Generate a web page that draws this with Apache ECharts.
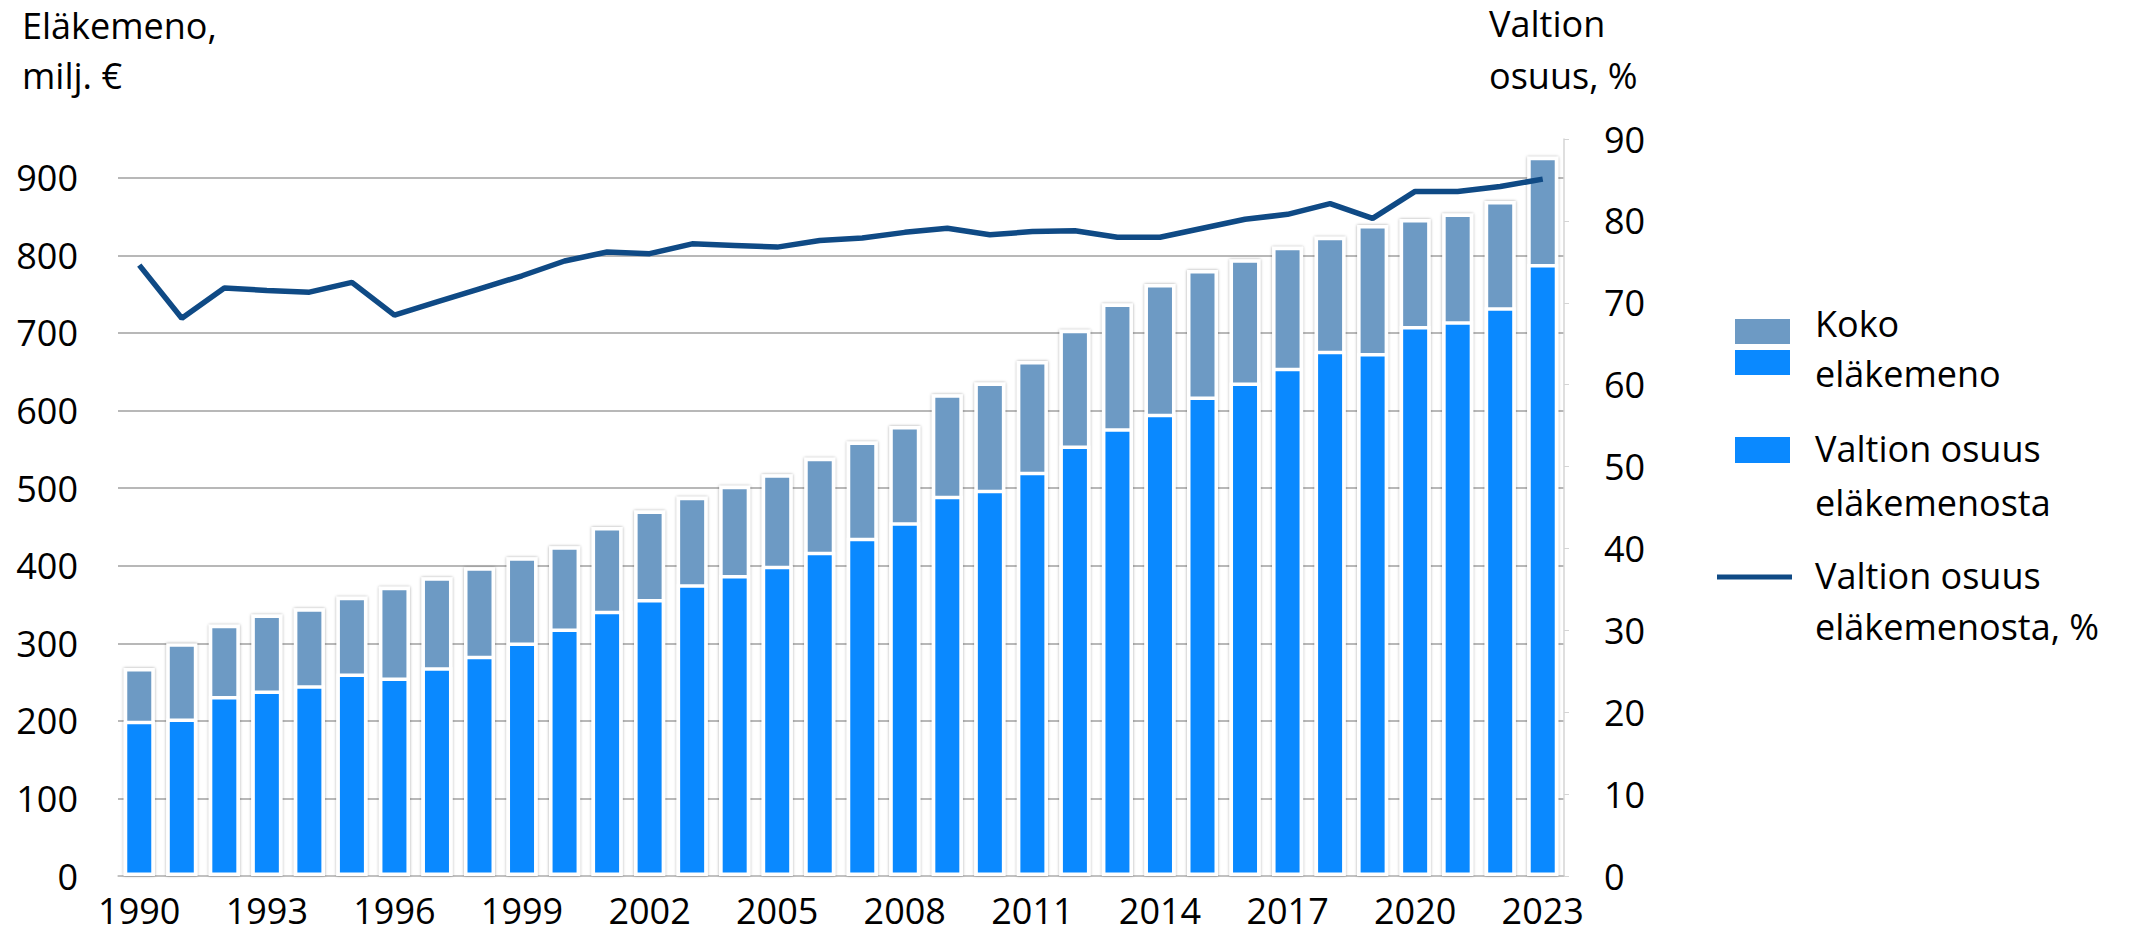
<!DOCTYPE html>
<html>
<head>
<meta charset="utf-8">
<script src="https://cdn.jsdelivr.net/npm/echarts@6/dist/echarts.min.js"></script>
<style>
  html, body { margin: 0; padding: 0; background: #fff; }
  #chart { width: 2130px; height: 937px; }
</style>
</head>
<body>
<div id="chart"></div>
<script>
const years = ['1990','1991','1992','1993','1994','1995','1996','1997','1998','1999','2000','2001','2002','2003','2004','2005','2006','2007','2008','2009','2010','2011','2012','2013','2014','2015','2016','2017','2018','2019','2020','2021','2022','2023'];
const totalPension = [268,300,324,337,345,360,373,385,398,411,425,450,471,489,503,518,539,560,580,621,636,664,704,738,763,781,795,811,824,839,847,854,870,927];
const stateShareAmount = [200,203,232,239,246,261,256,269,284,301,319,342,357,376,388,400,418,436,456,490,498,521,555,577,596,618,636,655,677,674,709,715,733,789];
const stateSharePct = [74.6,68.1,71.8,71.5,71.3,72.5,68.5,70.1,71.7,73.3,75.1,76.2,76.0,77.2,77.0,76.8,77.6,77.9,78.6,79.1,78.3,78.7,78.8,78.0,78.0,79.1,80.2,80.8,82.1,80.3,83.6,83.6,84.2,85.1];
const leftTicks = { min: 0, max: 950, interval: 100 };
const rightTicks = { min: 0, max: 90, interval: 10 };

const FONT = '"Open Sans", "Noto Sans", sans-serif';
const FS = 36;
const GRAY = '#6d9ac4';
const BLUE = '#0a89ff';
const LINE = '#0f4a85';

const chart = echarts.init(document.getElementById('chart'), null, { renderer: 'svg' });

function txt(text, x, y) {
  return { type: 'text', x: x, y: y, style: { text: text, fill: '#000', fontSize: FS, fontFamily: FONT, verticalAlign: 'middle', align: 'left' } };
}

chart.setOption({
  animation: false,
  backgroundColor: '#fff',
  grid: { left: 118, right: 566, top: 139, bottom: 61, containLabel: false },
  xAxis: {
    type: 'category',
    data: years,
    axisLine: { show: true, lineStyle: { color: '#c4c4c4', width: 1.5 } },
    axisTick: { show: false },
    axisLabel: { interval: 2, margin: 17, color: '#000', fontSize: FS, lineHeight: 34, fontFamily: FONT }
  },
  yAxis: [
    {
      type: 'value', min: leftTicks.min, max: leftTicks.max, interval: leftTicks.interval,
      axisLine: { show: false }, axisTick: { show: false },
      axisLabel: { margin: 40, color: '#000', fontSize: FS, fontFamily: FONT, showMaxLabel: false },
      splitLine: { show: true, showMaxLine: false, lineStyle: { color: '#a0a0a0', width: 1.5 } }
    },
    {
      type: 'value', position: 'right', min: rightTicks.min, max: rightTicks.max, interval: rightTicks.interval,
      axisLine: { show: true, lineStyle: { color: '#d4d4d4', width: 1.5 } },
      axisTick: { show: true, length: 5, lineStyle: { color: '#d4d4d4' } },
      axisLabel: { margin: 40, color: '#000', fontSize: FS, fontFamily: FONT },
      splitLine: { show: false }
    }
  ],
  series: [
    {
      name: 'Koko eläkemeno', type: 'bar', data: totalPension, barWidth: 31, barGap: '-100%',
      itemStyle: { color: GRAY, borderColor: '#fff', borderWidth: 3.5, shadowBlur: 3, shadowColor: 'rgba(0,0,0,0.35)' }
    },
    {
      name: 'Valtion osuus eläkemenosta', type: 'bar', data: stateShareAmount, barWidth: 31, barGap: '-100%',
      itemStyle: { color: BLUE, borderColor: '#fff', borderWidth: 3.5 }
    },
    {
      name: 'Valtion osuus eläkemenosta, %', type: 'line', yAxisIndex: 1, data: stateSharePct,
      symbol: 'none', lineStyle: { color: LINE, width: 5.5 }, z: 5
    }
  ],
  graphic: [
    txt('Eläkemeno,', 22, 25),
    txt('milj. €', 22, 75),
    txt('Valtion', 1489, 23),
    txt('osuus, %', 1489, 75),
    { type: 'rect', shape: { x: 1735, y: 319, width: 55, height: 25 }, style: { fill: GRAY } },
    { type: 'rect', shape: { x: 1735, y: 350, width: 55, height: 25 }, style: { fill: BLUE } },
    txt('Koko', 1815, 323),
    txt('eläkemeno', 1815, 373),
    { type: 'rect', shape: { x: 1735, y: 437, width: 55, height: 26 }, style: { fill: BLUE } },
    txt('Valtion osuus', 1815, 448),
    txt('eläkemenosta', 1815, 502),
    { type: 'line', shape: { x1: 1717, y1: 577, x2: 1792, y2: 577 }, style: { stroke: LINE, lineWidth: 5 } },
    txt('Valtion osuus', 1815, 575),
    txt('eläkemenosta, %', 1815, 626)
  ]
});
</script>
</body>
</html>
